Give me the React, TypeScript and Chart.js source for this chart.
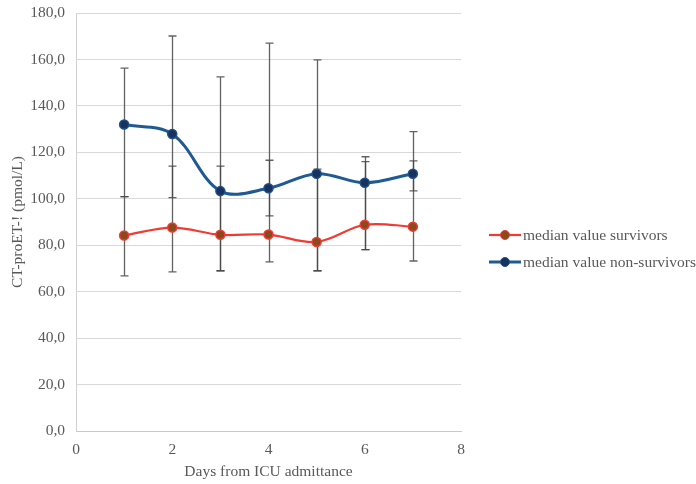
import React, { useEffect, useRef } from "react";
import { Chart, registerables } from "chart.js";
Chart.register(...registerables);

const days = [1, 2, 3, 4, 5, 6, 7];
const survivors = [84.2, 87.6, 84.5, 84.6, 81.4, 88.8, 88.0];
const nonSurvivors = [132.0, 127.9, 103.3, 104.5, 110.8, 106.9, 110.8];
const survivorsLow = [66.8, 68.5, 69.0, 72.8, 69.0, 78.1, 73.2];
const survivorsHigh = [100.9, 114.1, 114.1, 116.6, 112.8, 116.0, 116.3];
const nonSurvivorsLow = [100.9, 100.5, 69.0, 92.6, 69.0, 78.1, 103.4];
const nonSurvivorsHigh = [156.3, 170.1, 152.5, 167.0, 159.8, 118.1, 128.9];
const seriesLabels = ["median value survivors", "median value non-survivors"];
const yTitle = "CT-proET-! (pmol/L)";
const xTitle = "Days from ICU admittance";

const FONT = "'Liberation Serif', 'Times New Roman', serif";
const TEXT = "#595959";

export default function App() {
  const ref = useRef<HTMLCanvasElement>(null);
  useEffect(() => {
    document.body.style.margin = "0";
    const canvas = ref.current!;
    const lows = [survivorsLow, nonSurvivorsLow];
    const highs = [survivorsHigh, nonSurvivorsHigh];

    const errorBars = {
      id: "errorBars",
      beforeDatasetsDraw(chart: any) {
        const { ctx, scales } = chart;
        const xs = scales.x, ys = scales.y;
        ctx.save();
        ctx.strokeStyle = "rgba(70,70,70,0.85)";
        ctx.lineWidth = 1.3;
        for (let s = 0; s < 2; s++) {
          days.forEach((d, i) => {
            const x = Math.round(xs.getPixelForValue(d)) + 0.5;
            const y1 = ys.getPixelForValue(lows[s][i]);
            const y2 = ys.getPixelForValue(highs[s][i]);
            ctx.beginPath();
            ctx.moveTo(x, y1);
            ctx.lineTo(x, y2);
            ctx.moveTo(x - 4, y1);
            ctx.lineTo(x + 4, y1);
            ctx.moveTo(x - 4, y2);
            ctx.lineTo(x + 4, y2);
            ctx.stroke();
          });
        }
        ctx.restore();
      },
    };

    const customLegend = {
      id: "customLegend",
      afterDraw(chart: any) {
        const { ctx } = chart;
        ctx.save();
        chart.data.datasets.forEach((ds: any, i: number) => {
          const y = 235 + i * 27;
          ctx.strokeStyle = ds.borderColor;
          ctx.lineWidth = ds.borderWidth;
          ctx.beginPath();
          ctx.moveTo(489, y);
          ctx.lineTo(521, y);
          ctx.stroke();
          ctx.beginPath();
          ctx.arc(505, y, 4.5, 0, Math.PI * 2);
          ctx.fillStyle = ds.pointBackgroundColor;
          ctx.fill();
          ctx.lineWidth = 1;
          ctx.strokeStyle = ds.pointBorderColor;
          ctx.stroke();
          ctx.fillStyle = TEXT;
          ctx.font = `15.5px ${FONT}`;
          ctx.textBaseline = "middle";
          ctx.fillText(ds.label, 523, y + 1);
        });
        ctx.restore();
      },
    };

    const chart = new Chart(canvas, {
      type: "line",
      data: {
        datasets: [
          {
            label: seriesLabels[0],
            data: days.map((d, i) => ({ x: d, y: survivors[i] })),
            borderColor: "#F03A32",
            borderWidth: 2.2,
            pointBackgroundColor: "#8B4A1E",
            pointBorderColor: "#F03A32",
            pointBorderWidth: 1.5,
            pointRadius: 4.5,
            tension: 0.35,
            fill: false,
          },
          {
            label: seriesLabels[1],
            data: days.map((d, i) => ({ x: d, y: nonSurvivors[i] })),
            borderColor: "#1F5A92",
            borderWidth: 3,
            pointBackgroundColor: "#17325E",
            pointBorderColor: "#1F4F85",
            pointBorderWidth: 1.5,
            pointRadius: 4.5,
            tension: 0.35,
            fill: false,
          },
        ],
      },
      options: {
        responsive: false,
        animation: false,
        layout: { padding: { top: 13, right: 235, left: 0, bottom: 0 } },
        plugins: {
          legend: { display: false },
          tooltip: { enabled: false },
        },
        scales: {
          x: {
            type: "linear",
            min: 0,
            max: 8,
            grid: { display: false, drawTicks: false },
            border: { display: true, color: "#C8C8C8" },
            ticks: {
              stepSize: 2,
              padding: 10,
              color: TEXT,
              font: { family: FONT, size: 15.5 },
            },
            title: {
              display: true,
              text: xTitle,
              color: TEXT,
              font: { family: FONT, size: 15.5 },
              padding: { top: 0, bottom: 3 },
            },
            afterFit(scale: any) {
              scale.height = 53;
              scale.paddingRight = 0;
              scale.paddingLeft = 0;
            },
          },
          y: {
            min: 0,
            max: 180,
            grid: { color: "#D9D9D9", drawTicks: false, lineWidth: 1 },
            border: { display: true, color: "#D0D0D0" },
            ticks: {
              stepSize: 20,
              padding: 11,
              color: TEXT,
              font: { family: FONT, size: 15.5 },
              callback: (v: any) => Number(v).toFixed(1).replace(".", ","),
            },
            title: {
              display: true,
              text: yTitle,
              color: TEXT,
              font: { family: FONT, size: 15.5 },
              padding: { top: 9, bottom: 0 },
            },
            afterFit(scale: any) {
              scale.width = 76;
              scale.paddingTop = 0;
              scale.paddingBottom = 0;
            },
          },
        },
      },
      plugins: [errorBars, customLegend],
    });
    return () => chart.destroy();
  }, []);
  return (
    <div style={{ width: 696, height: 484 }}>
      <canvas ref={ref} width={696} height={484} style={{ display: "block" }} />
    </div>
  );
}
